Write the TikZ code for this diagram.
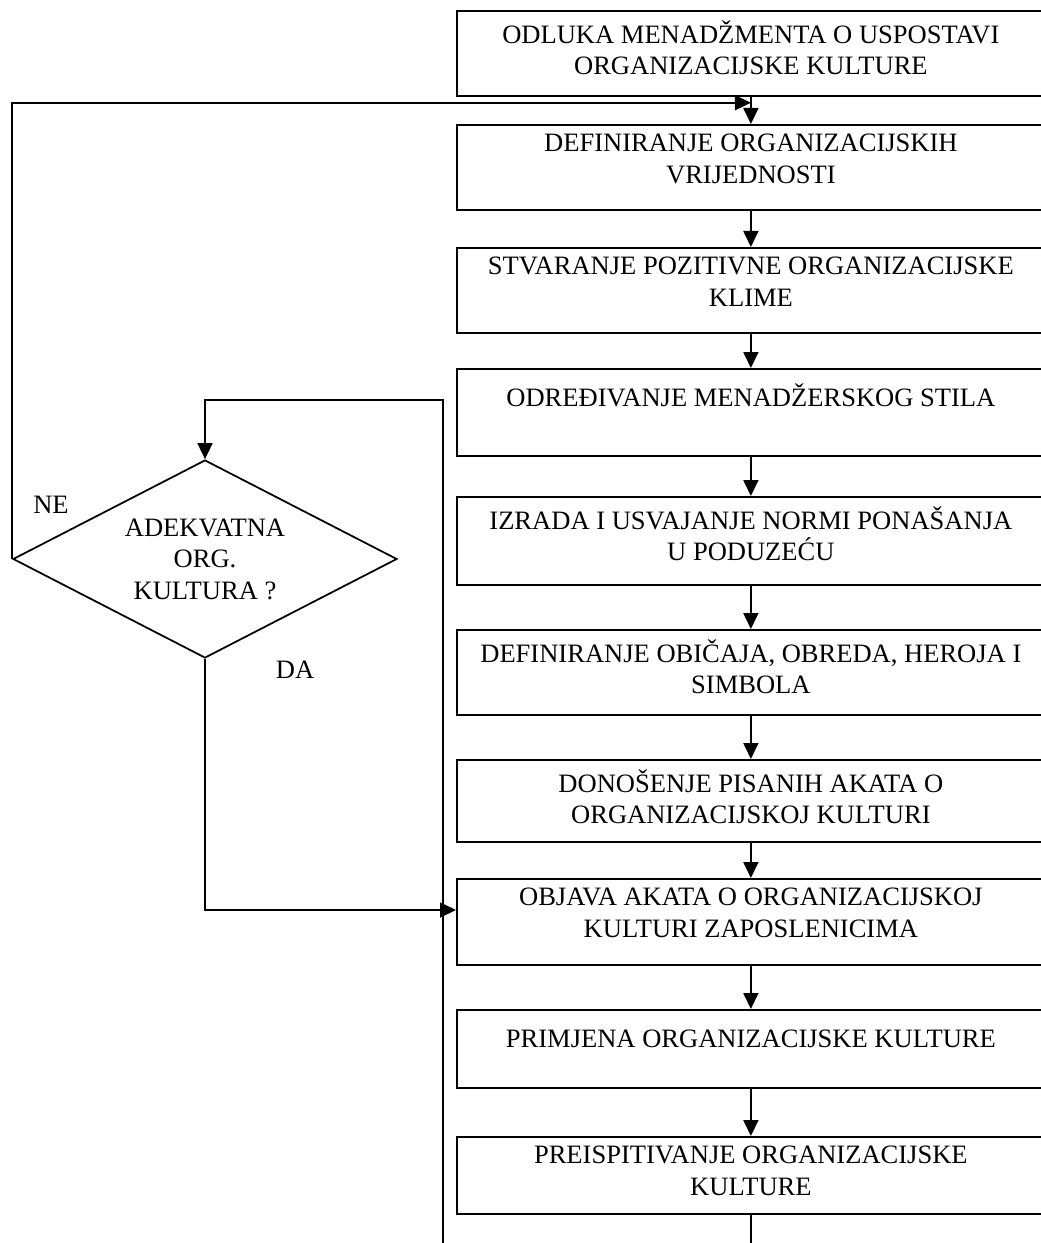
\documentclass[tikz,border=0pt]{standalone}
\usepackage{fontspec}
\setmainfont{Liberation Serif}
\usetikzlibrary{shapes.geometric,arrows.meta,positioning,calc}

\begin{document}
\begin{tikzpicture}[
  stepbox/.style={rectangle, draw, line width=1pt, minimum width=11.76cm,
                  anchor=north west, inner sep=0pt},
  boxtext/.style={font=\fontsize{15.1}{17.9}\selectfont, align=center,
                  inner sep=0pt, execute at begin node={\rule{0pt}{16pt}}},
  decision/.style={diamond, draw, line width=1pt, minimum width=7.68cm,
                   minimum height=3.96cm, aspect=1.94, inner sep=0pt,
                   align=center, font=\fontsize{15.1}{17.9}\selectfont},
  answer/.style={font=\fontsize{15.1}{17.9}\selectfont},
  flow/.style={draw, line width=1pt, -{Triangle[length=0.32cm,width=0.3cm]}},
  plain/.style={draw, line width=1pt},
]
  \useasboundingbox (0,0) rectangle (20.8,-24.86);

  % ========= main column of steps =========
  \node[stepbox, minimum height=1.70cm] (b1) at (9.12,-0.20) {};
  \node[boxtext, below=0.2cm of b1.north] (t1)
       {ODLUKA MENADŽMENTA O USPOSTAVI\\ ORGANIZACIJSKE KULTURE};

  \node[stepbox, minimum height=1.70cm] (b2) at (9.12,-2.48) {};
  \node[boxtext, below=0.2cm of b2.north] (t2)
       {DEFINIRANJE ORGANIZACIJSKIH\\ VRIJEDNOSTI};

  \node[stepbox, minimum height=1.70cm] (b3) at (9.12,-4.94) {};
  \node[boxtext, below=0.2cm of b3.north] (t3)
       {STVARANJE POZITIVNE ORGANIZACIJSKE\\ KLIME};

  \node[stepbox, minimum height=1.74cm] (b4) at (9.12,-7.36) {};
  \node[boxtext, below=0.2cm of b4.north] (t4)
       {ODREĐIVANJE MENADŽERSKOG STILA};

  \node[stepbox, minimum height=1.76cm] (b5) at (9.12,-9.92) {};
  \node[boxtext, below=0.2cm of b5.north] (t5)
       {IZRADA I USVAJANJE NORMI PONAŠANJA\\ U PODUZEĆU};

  \node[stepbox, minimum height=1.70cm] (b6) at (9.12,-12.58) {};
  \node[boxtext, below=0.2cm of b6.north] (t6)
       {DEFINIRANJE OBIČAJA, OBREDA, HEROJA I\\ SIMBOLA};

  \node[stepbox, minimum height=1.64cm] (b7) at (9.12,-15.18) {};
  \node[boxtext, below=0.2cm of b7.north] (t7)
       {DONOŠENJE PISANIH AKATA O\\ ORGANIZACIJSKOJ KULTURI};

  \node[stepbox, minimum height=1.72cm] (b8) at (9.12,-17.56) {};
  \node[boxtext, below=0.2cm of b8.north] (t8)
       {OBJAVA AKATA O ORGANIZACIJSKOJ\\ KULTURI ZAPOSLENICIMA};

  \node[stepbox, minimum height=1.56cm] (b9) at (9.12,-20.18) {};
  \node[boxtext, below=0.2cm of b9.north] (t9)
       {PRIMJENA ORGANIZACIJSKE KULTURE};

  \node[stepbox, minimum height=1.54cm] (b10) at (9.12,-22.72) {};
  \node[boxtext, below=0.2cm of b10.north] (t10)
       {PREISPITIVANJE ORGANIZACIJSKE\\ KULTURE};

  % ========= decision =========
  \node[decision] (dec) at (4.10,-11.18) {ADEKVATNA\\ ORG.\\ KULTURA ?};
  \node[answer] (ne) at (1.02,-10.10) {NE};
  \node[answer] (da) at (5.90,-13.40) {DA};

  % loop points
  \coordinate (nejoin) at ($(b1.south)+(0,-0.12)$);
  \coordinate (looptop) at (8.86,-8.00);
  \coordinate (loopin) at (8.86,-24.86);

  % Edges down the column
  \foreach \i [count=\j from 2] in {1,...,9} {
    \draw[flow] (b\i.south) -- (b\j.north);
  }
  \draw[plain] (b10.south) -- (b10.south |- loopin);

  % Feedback into the decision and its two outcomes
  \draw[flow] (loopin) |- (dec.north |- looptop) -- (dec.north);
  \draw[flow] (dec.west) |- (nejoin);
  \draw[flow] (dec.south) |- ([yshift=-0.64cm]b8.north west);

\end{tikzpicture}
\end{document}
